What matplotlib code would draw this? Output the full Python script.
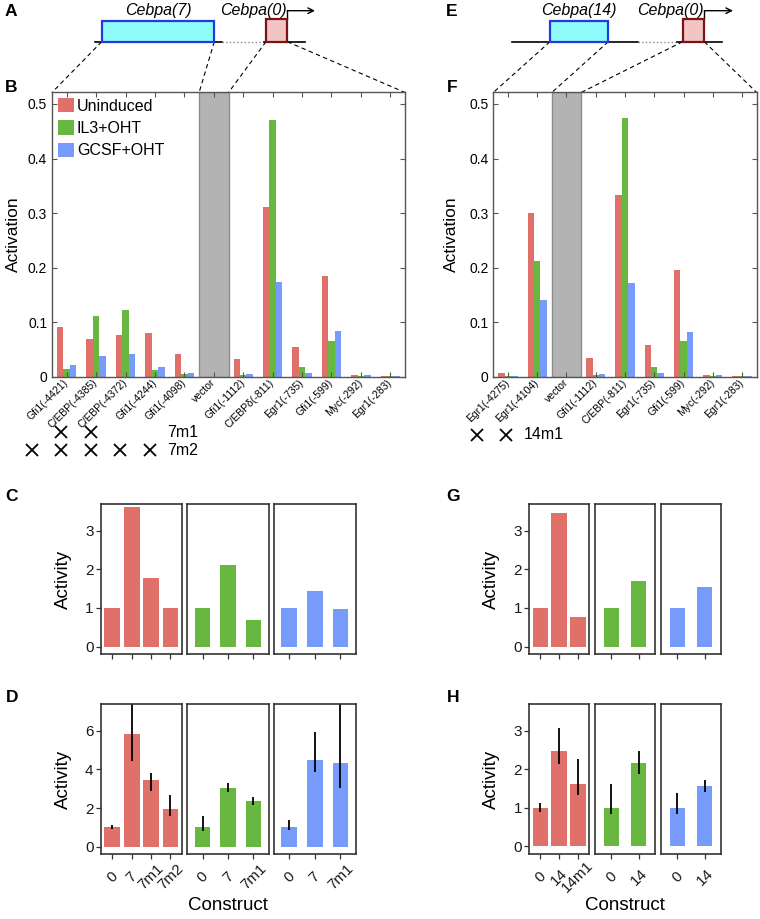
import matplotlib
matplotlib.use("Agg")
import matplotlib.pyplot as plt
import matplotlib.transforms as mtransforms
from matplotlib.patches import Rectangle
import numpy as np

plt.rcParams["font.family"] = ["Liberation Sans", "DejaVu Sans"]

W, H = 760, 919

RED = "#E0706A"
GREEN = "#67B740"
BLUE = "#769BFA"
COLORS = [RED, GREEN, BLUE]
CONDITIONS = ["Uninduced", "IL3+OHT", "GCSF+OHT"]

# --- B: sites in Cebpa(7) + Cebpa(0)
b_sites = ["Gfi1(-4421)", "C/EBP(-4385)", "C/EBP(-4372)", "Gfi1(-4244)",
           "Gfi1(-4098)", "vector", "Gfi1(-1112)", "C/EBPδ(-811)",
           "Egr1(-735)", "Gfi1(-599)", "Myc(-292)", "Egr1(-283)"]
b_uninduced = [0.092, 0.070, 0.077, 0.080, 0.041, 0, 0.032, 0.311, 0.054, 0.184, 0.0025, 0.0005]
b_il3 = [0.015, 0.111, 0.122, 0.012, 0.005, 0, 0.003, 0.470, 0.018, 0.066, 0.002, 0.002]
b_gcsf = [0.021, 0.038, 0.041, 0.017, 0.007, 0, 0.005, 0.174, 0.007, 0.084, 0.003, 0.001]
b_mut_names = ["7m1", "7m2"]
b_mut_sites = [[1, 2], [0, 1, 2, 3, 4]]

# --- F: sites in Cebpa(14) + Cebpa(0)
f_sites = ["Egr1(-4275)", "Egr1(-4104)", "vector", "Gfi1(-1112)", "C/EBP(-811)",
           "Egr1(-735)", "Gfi1(-599)", "Myc(-292)", "Egr1(-283)"]
f_uninduced = [0.0073, 0.301, 0, 0.034, 0.333, 0.0575, 0.196, 0.0025, 0.0005]
f_il3 = [0.002, 0.212, 0, 0.003, 0.475, 0.018, 0.066, 0.001, 0.0012]
f_gcsf = [0.001, 0.141, 0, 0.005, 0.171, 0.007, 0.082, 0.003, 0.0005]
f_mut_names = ["14m1"]
f_mut_sites = [[0, 1]]

# --- C / D: construct activity, one facet per condition
cd_constructs = [["0", "7", "7m1", "7m2"], ["0", "7", "7m1"], ["0", "7", "7m1"]]
c_activity = [[1.0, 3.62, 1.77, 1.0], [1.0, 2.11, 0.68], [1.0, 1.45, 0.98]]
d_activity = [[1.0, 5.85, 3.45, 1.93], [1.0, 3.05, 2.35], [1.0, 4.5, 4.33]]
d_low = [[0.9, 4.45, 2.9, 1.6], [0.81, 2.85, 2.17], [0.86, 3.88, 3.05]]
d_high = [[1.1, 7.6, 3.83, 2.66], [1.6, 3.28, 2.55], [1.38, 5.92, 7.6]]

# --- G / H
gh_constructs = [["0", "14", "14m1"], ["0", "14"], ["0", "14"]]
g_activity = [[1.0, 3.45, 0.77], [1.0, 1.71], [1.0, 1.54]]
h_activity = [[1.0, 2.47, 1.61], [1.0, 2.15], [1.0, 1.56]]
h_low = [[0.9, 2.14, 1.34], [0.83, 1.88], [0.85, 1.41]]
h_high = [[1.12, 3.08, 2.27], [1.61, 2.47], [1.39, 1.72]]

SITE_YTOP = 0.521
BAR_PX = 15.7


def px_axes(fig, left, top, right, bottom):
    return fig.add_axes([left / W, 1 - bottom / H, (right - left) / W, (bottom - top) / H])


def site_chart(ax, sites, series, mut_names, mut_sites, shift, legend=False):
    n = len(sites)
    x = np.arange(n)
    bw = 0.22
    for k, (vals, color, label) in enumerate(zip(series, COLORS, CONDITIONS)):
        ax.bar(x + (k - 1) * bw, vals, bw, color=color, label=label, linewidth=0)
    vec = sites.index("vector")
    ax.bar(vec, SITE_YTOP, 1.0, color="#B3B3B3", edgecolor="#8C8C8C", linewidth=1)
    ax.set_xlim(-0.5, n - 0.5)
    ax.set_ylim(0, SITE_YTOP)
    ax.set_yticks([0, 0.1, 0.2, 0.3, 0.4, 0.5])
    ax.set_yticklabels(["0", "0.1", "0.2", "0.3", "0.4", "0.5"])
    ax.set_xticks(x)
    ax.tick_params(axis="both", direction="in", top=True, right=True,
                   length=3.5, width=0.8, color="#555555")
    ax.tick_params(axis="y", labelsize=10)
    ax.tick_params(axis="x", pad=3, labelsize=7.5)
    ax.set_xticklabels(sites, rotation=45, ha="right", va="center",
                       rotation_mode="anchor", fontsize=7.5)
    for s in ax.spines.values():
        s.set_color("#555555")
        s.set_linewidth(1.0)
    if legend:
        ax.legend(loc="upper left", frameon=False, fontsize=11.5, handlelength=1.0,
                  handleheight=1.0, handletextpad=0.2, labelspacing=0.42,
                  borderaxespad=0.2, borderpad=0.15)
    # mutated sites below the labels
    blend = mtransforms.blended_transform_factory(ax.transData, ax.transAxes)
    y0 = -0.195 if len(mut_names) > 1 else -0.205
    text_x = max(max(m) for m in mut_sites) - shift + 0.6
    for row, (name, idx) in enumerate(zip(mut_names, mut_sites)):
        y = y0 - row * 0.064
        ax.plot(np.array(idx) - shift, [y] * len(idx), "x", ms=8, mew=1.3,
                color="black", transform=blend, clip_on=False)
        ax.text(text_x, y, name, transform=blend, ha="left", va="center", fontsize=11.5)


def facet_row(fig, spans, top, bottom, constructs, heights, ylim, yticks,
              low=None, high=None, labels=False):
    axes = []
    for j, (l, r) in enumerate(spans):
        ax = px_axes(fig, l, top, r, bottom)
        n = len(constructs[j])
        x = np.arange(1, n + 1)
        width = BAR_PX / (r - l) * (n + 0.2)
        ax.bar(x, heights[j], width, color=COLORS[j], linewidth=0)
        if low is not None:
            ax.vlines(x, low[j], high[j], color="black", lw=1.3)
        ax.set_xlim(0.4, n + 0.6)
        ax.set_ylim(*ylim)
        ax.set_xticks(x)
        ax.set_yticks(yticks)
        if j > 0:
            ax.tick_params(axis="y", left=False, labelleft=False)
        ax.tick_params(direction="out", length=3.6, width=0.9, color="#333333",
                       labelsize=11, labelcolor="#1A1A1A", pad=1.5)
        ax.tick_params(axis="x", pad=13)
        if labels:
            ax.set_xticklabels(constructs[j], rotation=45, rotation_mode="anchor",
                               ha="center", va="center")
        else:
            ax.set_xticklabels([])
        for s in ax.spines.values():
            s.set_color("#333333")
            s.set_linewidth(1.2)
        axes.append(ax)
    return axes


def schematic(ax, line, gap, enh, prom, enh_label, arrow_end, y_line=41.7):
    ax.plot([line[0], gap[0]], [y_line, y_line], color="black", lw=1.2)
    ax.plot([gap[0], gap[1]], [y_line, y_line], color="#888888", lw=1.0, ls=":")
    ax.plot([gap[1], line[1]], [y_line, y_line], color="black", lw=1.2)
    ax.add_patch(Rectangle((enh[0], 20.7), enh[1] - enh[0], y_line - 20.7,
                           facecolor="#8FFBFB", edgecolor="#1F3DDB", lw=1.6, zorder=3))
    ax.add_patch(Rectangle((prom[0], 19), prom[1] - prom[0], y_line - 19,
                           facecolor="#F2C4C4", edgecolor="#7A1414", lw=1.6, zorder=3))
    ax.plot([prom[1], prom[1]], [19, 10.7], color="black", lw=1.0)
    ax.annotate("", xy=(arrow_end, 10.7), xytext=(prom[1], 10.7),
                arrowprops=dict(arrowstyle="->", lw=1.0, color="black",
                                shrinkA=0, shrinkB=0))
    ax.text((enh[0] + enh[1]) / 2, 10, enh_label, style="italic", fontsize=11.5,
            ha="center", va="center")
    ax.text(prom[1] - 34, 10, "Cebpa(0)", style="italic", fontsize=11.5,
            ha="center", va="center")


def connectors(ax, enh, prom, ax_left, ax_right, gray_left, gray_right, y0=41.7, y1=92.5):
    kw = dict(color="black", lw=0.8, ls=(0, (4, 3)))
    ax.plot([enh[0], ax_left], [y0, y1], **kw)
    ax.plot([enh[1], gray_left], [y0, y1], **kw)
    ax.plot([prom[0], gray_right], [y0, y1], **kw)
    ax.plot([prom[1], ax_right], [y0, y1], **kw)


fig = plt.figure(figsize=(W / 100, H / 100), dpi=100)

overlay = fig.add_axes([0, 0, 1, 1])
overlay.set_xlim(0, W)
overlay.set_ylim(H, 0)
overlay.axis("off")

# B
bl, br = 52, 405
ax_b = px_axes(fig, bl, 92.5, br, 376.7)
site_chart(ax_b, b_sites, [b_uninduced, b_il3, b_gcsf], b_mut_names, b_mut_sites,
           shift=1.18, legend=True)
# F
fl, fr = 493.3, 756.7
ax_f = px_axes(fig, fl, 92.5, fr, 376.7)
site_chart(ax_f, f_sites, [f_uninduced, f_il3, f_gcsf], f_mut_names, f_mut_sites,
           shift=1.07)

# schematics and zoom connectors
schematic(overlay, (95, 305), (222, 264), (101.7, 214.3), (266, 287.3), "Cebpa(7)", 315)
schematic(overlay, (511.7, 721.7), (638.3, 676.7), (550, 608.3), (682.7, 704.3), "Cebpa(14)", 733)
vb = b_sites.index("vector")
step_b = (br - bl) / len(b_sites)
connectors(overlay, (101.7, 214.3), (266, 287.3), bl, br,
           bl + vb * step_b, bl + (vb + 1) * step_b)
vf = f_sites.index("vector")
step_f = (fr - fl) / len(f_sites)
connectors(overlay, (550, 608.3), (682.7, 704.3), fl, fr,
           fl + vf * step_f, fl + (vf + 1) * step_f)

# C, D
cd_spans = [(100.7, 182), (187.3, 268.7), (274, 355.7)]
facet_row(fig, cd_spans, 504, 654, cd_constructs, c_activity, (-0.19, 3.69), [0, 1, 2, 3])
facet_row(fig, cd_spans, 704, 853.7, cd_constructs, d_activity, (-0.36, 7.38), [0, 2, 4, 6],
          low=d_low, high=d_high, labels=True)
# G, H
gh_spans = [(529.3, 589), (595, 655), (661, 721)]
facet_row(fig, gh_spans, 504, 654, gh_constructs, g_activity, (-0.19, 3.69), [0, 1, 2, 3])
facet_row(fig, gh_spans, 704, 853.7, gh_constructs, h_activity, (-0.19, 3.69), [0, 1, 2, 3],
          low=h_low, high=h_high, labels=True)


def ftext(x, y, s, **kw):
    fig.text(x / W, 1 - y / H, s, **kw)


for x, y, s in [(11, 11, "A"), (11, 87.5, "B"), (11, 497, "C"), (12, 698, "D"),
                (452, 11, "E"), (452, 87.5, "F"), (453, 497, "G"), (453, 698, "H")]:
    ftext(x, y, s, fontsize=12.5, fontweight="bold", ha="center", va="center")

ftext(13, 234.6, "Activation", rotation=90, fontsize=12.5, ha="center", va="center")
ftext(451, 234.6, "Activation", rotation=90, fontsize=12.5, ha="center", va="center")
for x in (63.5, 491.7):
    ftext(x, 579, "Activity", rotation=90, fontsize=13.5, ha="center", va="center")
    ftext(x, 779, "Activity", rotation=90, fontsize=13.5, ha="center", va="center")
ftext(228, 906, "Construct", fontsize=13.5, ha="center", va="center")
ftext(625, 906, "Construct", fontsize=13.5, ha="center", va="center")

fig.savefig("out.png", dpi=100)
